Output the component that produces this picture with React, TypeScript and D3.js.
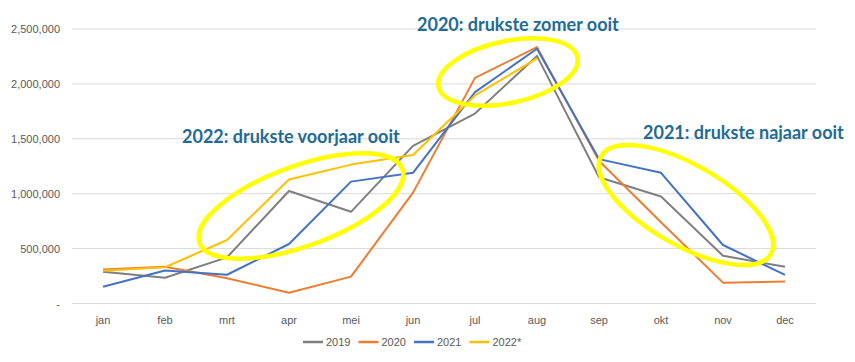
import { useEffect, useRef } from "react";
import * as d3 from "d3";

const months = ["jan", "feb", "mrt", "apr", "mei", "jun", "jul", "aug", "sep", "okt", "nov", "dec"];

const series2019 = [290000, 235000, 420000, 1025000, 835000, 1435000, 1730000, 2255000, 1150000, 975000, 435000, 335000];
const series2020 = [310000, 335000, 230000, 98000, 245000, 1010000, 2055000, 2335000, 1300000, 740000, 190000, 200000];
const series2021 = [153000, 300000, 262000, 542000, 1110000, 1190000, 1925000, 2320000, 1315000, 1190000, 533000, 260000];
const series2022 = [298000, 330000, 578000, 1130000, 1265000, 1352000, 1895000, 2232000];

const seriesNames = ["2019", "2020", "2021", "2022*"];
const seriesColors = ["#7f7f7f", "#ed7d31", "#4472c4", "#ffc000"];

const yTicks = [0, 500000, 1000000, 1500000, 2000000, 2500000];

const annotations = [
  { text: "2022: drukste voorjaar ooit", x: 182, y: 143 },
  { text: "2020: drukste zomer ooit", x: 417, y: 31 },
  { text: "2021: drukste najaar ooit", x: 643, y: 139 },
];

// highlight ellipses: center, radii, rotation
const ellipses = [
  { cx: 301, cy: 206, rx: 108, ry: 40, rot: -20 },
  { cx: 508, cy: 72, rx: 71, ry: 31, rot: -12 },
  { cx: 686, cy: 205, rx: 98, ry: 40, rot: 30 },
];

export default function App() {
  const svgRef = useRef<SVGSVGElement>(null);

  useEffect(() => {
    if (!svgRef.current) return;
    const svg = d3.select(svgRef.current);
    svg.selectAll("*").remove();

    const width = 855;
    const margin = { left: 72, right: 39 };
    const x = d3.scalePoint<string>().domain(months).range([margin.left, width - margin.right]).padding(0.5);
    const y = d3.scaleLinear().domain([0, 2500000]).range([303.5, 29]);

    const font = "'Liberation Sans', Arial, sans-serif";

    // gridlines
    svg.append("g")
      .selectAll("line")
      .data(yTicks)
      .join("line")
      .attr("x1", margin.left)
      .attr("x2", width - margin.right)
      .attr("y1", d => y(d))
      .attr("y2", d => y(d))
      .attr("stroke", "#d9d9d9")
      .attr("stroke-width", 1);

    // y labels
    svg.append("g")
      .selectAll("text")
      .data(yTicks)
      .join("text")
      .attr("x", 60)
      .attr("y", d => y(d) + 4)
      .attr("text-anchor", "end")
      .attr("font-family", font)
      .attr("font-size", 11)
      .attr("fill", "#595959")
      .text(d => (d === 0 ? "-" : d3.format(",")(d)));

    // x labels
    svg.append("g")
      .selectAll("text")
      .data(months)
      .join("text")
      .attr("x", d => x(d)!)
      .attr("y", 324)
      .attr("text-anchor", "middle")
      .attr("font-family", font)
      .attr("font-size", 11)
      .attr("fill", "#595959")
      .text(d => d);

    const line = d3.line<number>()
      .x((_, i) => x(months[i])!)
      .y(d => y(d));

    const allSeries = [series2019, series2020, series2021, series2022];
    svg.append("g")
      .selectAll("path")
      .data(allSeries)
      .join("path")
      .attr("d", d => line(d))
      .attr("fill", "none")
      .attr("stroke", (_, i) => seriesColors[i])
      .attr("stroke-width", 2)
      .attr("stroke-linejoin", "round");

    // ellipses
    svg.append("g")
      .selectAll("ellipse")
      .data(ellipses)
      .join("ellipse")
      .attr("cx", 0)
      .attr("cy", 0)
      .attr("rx", d => d.rx)
      .attr("ry", d => d.ry)
      .attr("transform", d => `translate(${d.cx},${d.cy}) rotate(${d.rot})`)
      .attr("fill", "none")
      .attr("stroke", "#ffff00")
      .attr("stroke-width", 4.5);

    // annotations
    svg.append("g")
      .selectAll("text")
      .data(annotations)
      .join("text")
      .attr("x", d => d.x)
      .attr("y", d => d.y)
      .attr("font-family", "Lato, sans-serif")
      .attr("font-weight", "bold")
      .attr("font-size", 18)
      .attr("fill", "#1f6b94")
      .text(d => d.text);

    // legend
    const legend = svg.append("g")
      .selectAll("g")
      .data(seriesNames)
      .join("g")
      .attr("transform", (_, i) => `translate(${303 + i * 55.5},342)`);
    legend.append("line")
      .attr("x1", 0)
      .attr("x2", 20)
      .attr("stroke", (_, i) => seriesColors[i])
      .attr("stroke-width", 2.5);
    legend.append("text")
      .attr("x", 23)
      .attr("y", 4)
      .attr("font-family", font)
      .attr("font-size", 11)
      .attr("fill", "#595959")
      .text(d => d);
  }, []);

  return (
    <div style={{ position: "absolute", left: 0, top: 0, background: "#fff" }}>
      <svg ref={svgRef} width={855} height={362} viewBox="0 0 855 362" />
    </div>
  );
}
